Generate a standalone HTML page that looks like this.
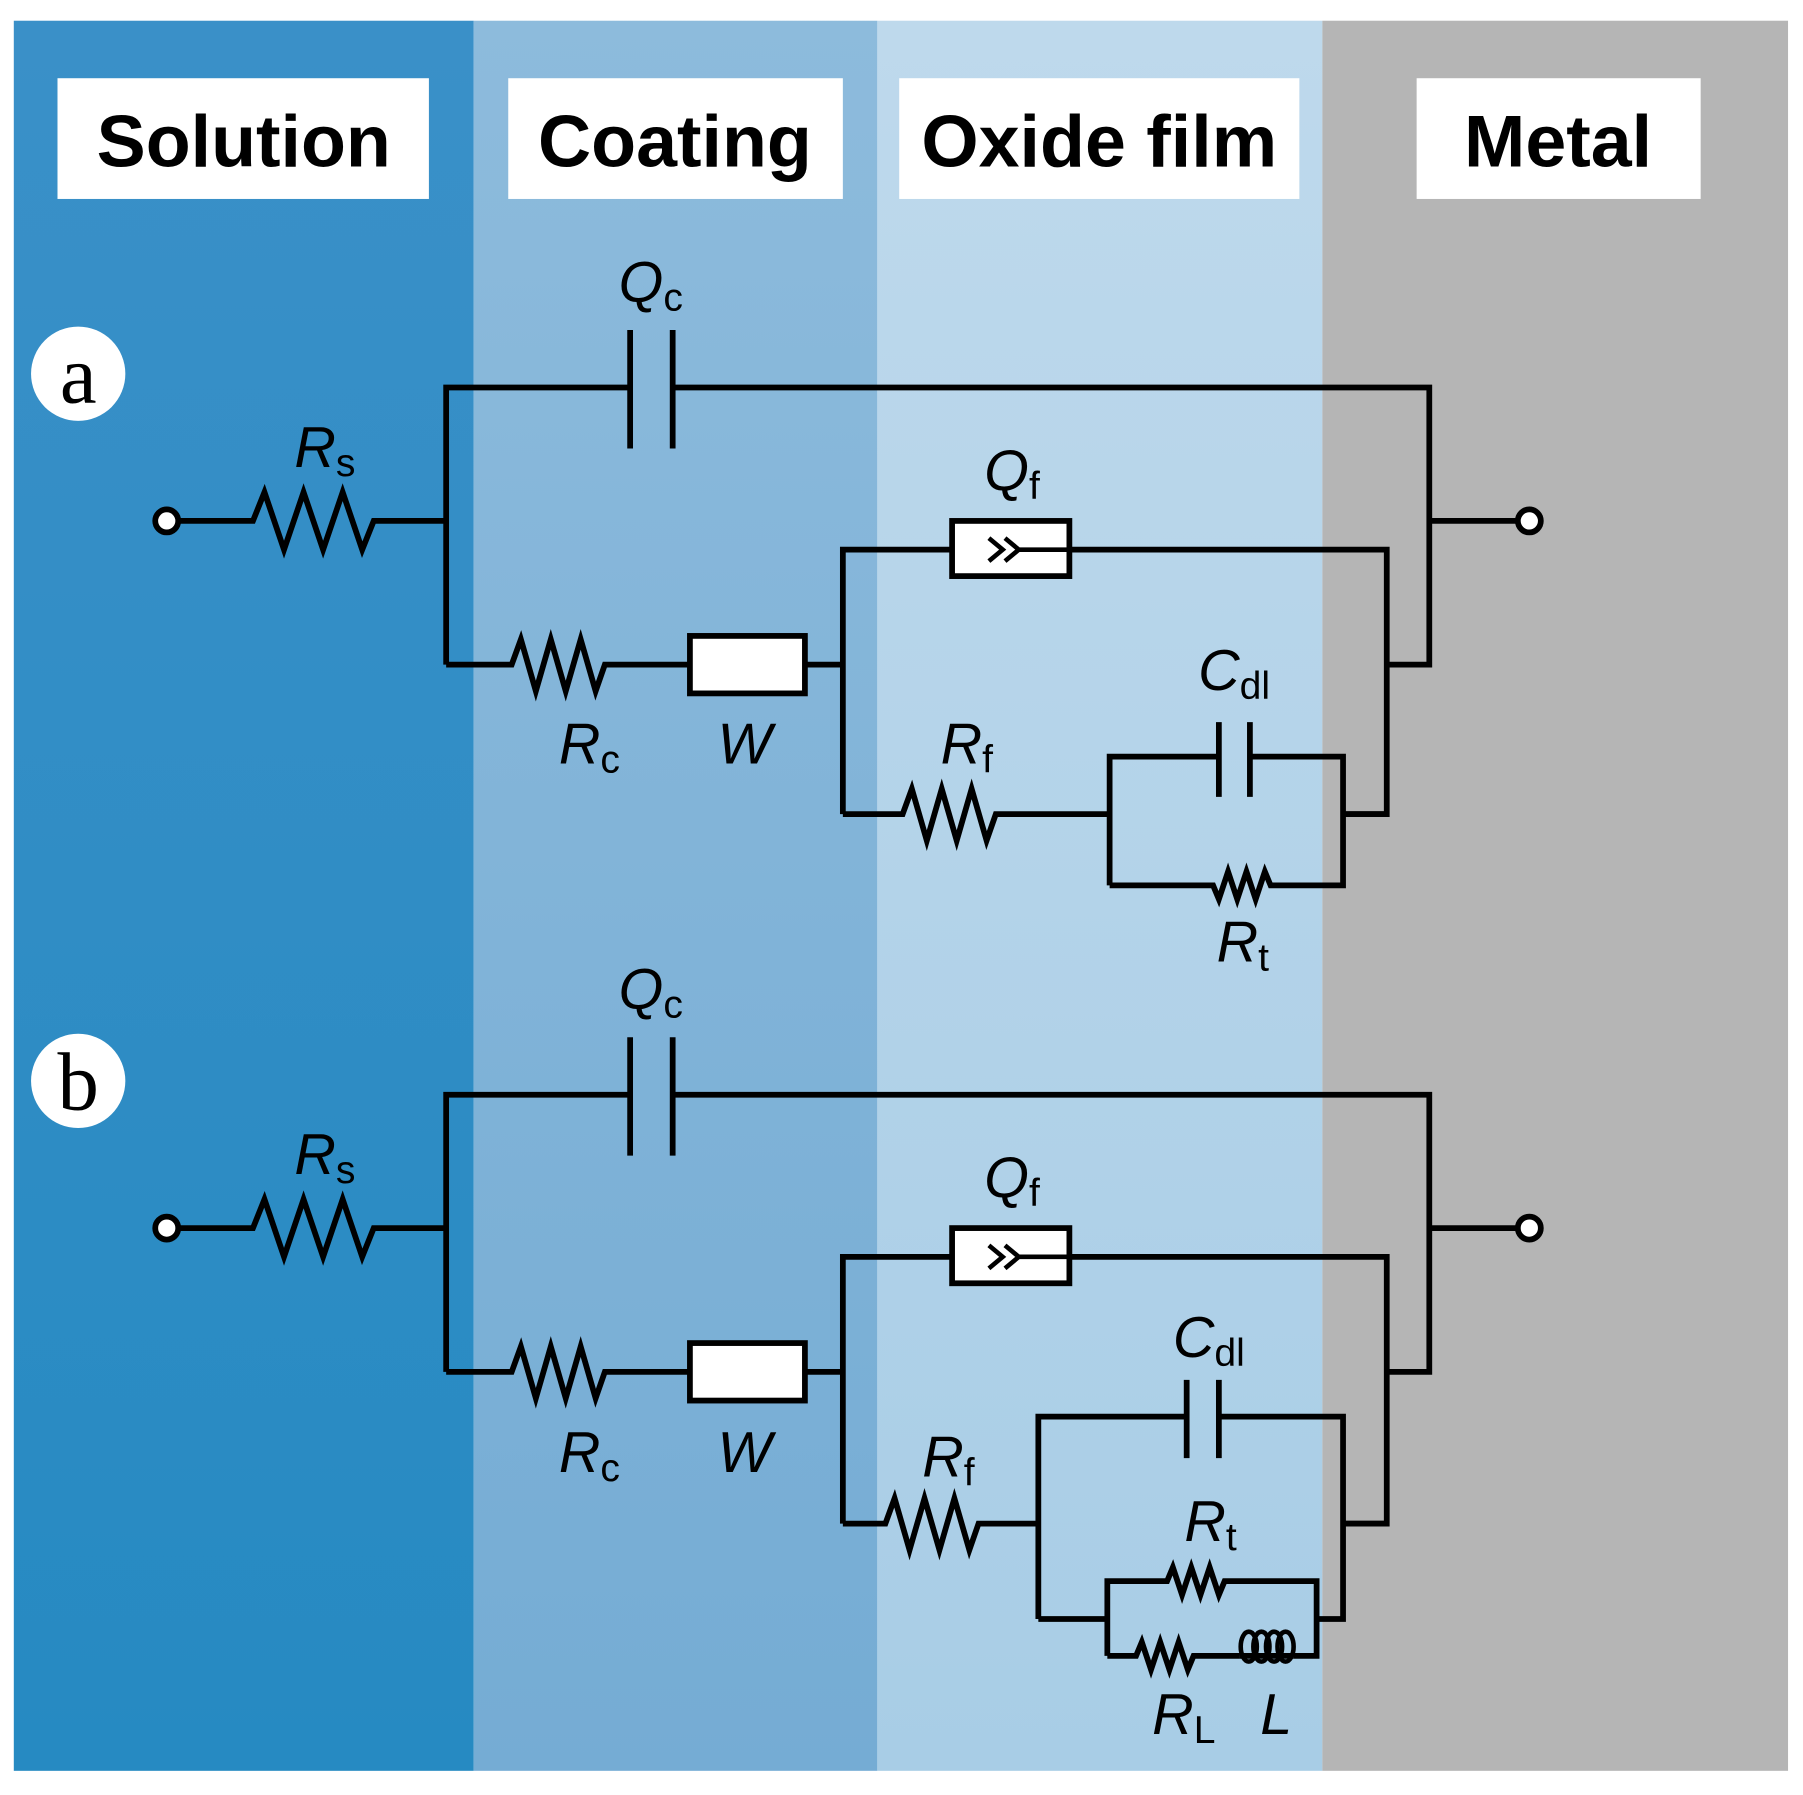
<!DOCTYPE html>
<html><head><meta charset="utf-8"><style>html,body{margin:0;padding:0;background:#fff}svg{display:block}</style></head><body>
<svg width="1803" height="1795" viewBox="0 0 1568 1561" xmlns="http://www.w3.org/2000/svg">
<defs>
<linearGradient id="g1" x1="0" y1="0" x2="0" y2="1"><stop offset="0" stop-color="#3a90c8"/><stop offset="1" stop-color="#268ac2"/></linearGradient>
<linearGradient id="g2" x1="0" y1="0" x2="0" y2="1"><stop offset="0" stop-color="#8dbbdc"/><stop offset="1" stop-color="#75acd4"/></linearGradient>
<linearGradient id="g3" x1="0" y1="0" x2="0" y2="1"><stop offset="0" stop-color="#bed9ec"/><stop offset="1" stop-color="#a8cde6"/></linearGradient>
</defs>
<rect x="0" y="0" width="1568" height="1561" fill="#fff"/>
<rect x="12" y="18" width="400" height="1522" fill="url(#g1)"/>
<rect x="412" y="18" width="351" height="1522" fill="url(#g2)"/>
<rect x="763" y="18" width="387" height="1522" fill="url(#g3)"/>
<rect x="1150" y="18" width="405" height="1522" fill="#b5b5b5"/>
<g fill="#fff">
<rect x="50" y="68" width="323" height="105"/><rect x="442" y="68" width="291" height="105"/>
<rect x="782" y="68" width="348" height="105"/><rect x="1232" y="68" width="247" height="105"/>
</g>
<g font-family="Liberation Sans, sans-serif" font-weight="bold" font-size="64" text-anchor="middle" fill="#000">
<text x="212" y="145">Solution</text><text x="587" y="145">Coating</text>
<text x="956" y="145">Oxide film</text><text x="1355" y="145">Metal</text>
</g>
<g fill="#fff"><circle cx="68" cy="325" r="41"/><circle cx="68" cy="940" r="41"/></g>
<g font-family="Liberation Serif, serif" font-size="72" text-anchor="middle" fill="#000">
<text x="68" y="350">a</text><text x="68" y="965">b</text></g>

<g fill="none" stroke="#000" stroke-width="5" stroke-linejoin="miter">
<path d="M150 453 H220 l10 -25 l17 50 l17 -50 l17 50 l17 -50 l17 50 l10 -25 H388"/>
<path d="M388 578 V337 H548 M585 337 H1243 V578 H1206"/>
<path d="M548 287 V390 M585 287 V390"/>
<path d="M1243 453 H1318"/>
<path d="M388 578 H445 l8 -22 l13 45 l13 -45 l13 45 l13 -45 l13 45 l8 -23 H600"/>
<rect x="600" y="553" width="100" height="50" fill="#fff"/>
<path d="M700 578 H733"/>
<path d="M733 708 V478 H828 M930 478 H1206 V708 H1170"/>
<rect x="828" y="453" width="102" height="48" fill="#fff"/>
</g>
<g fill="none" stroke="#000" stroke-width="5">
<path d="M733 708 H785 l8 -22 l13 45 l13 -45 l13 45 l13 -45 l13 45 l8 -23 H965"/>
<path d="M965 770 V658 H1060 M1087 658 H1168 V770 H1105 l-5 -12 l-8 24 l-8 -24 l-8 24 l-8 -24 l-8 24 l-5 -12 H965"/>
<path d="M1060 628 V693 M1087 628 V693"/>
<path d="M1168 708 H1206"/>
<circle cx="145" cy="453" r="10" fill="#fff"/><circle cx="1330" cy="453" r="10" fill="#fff"/>
<path d="M860 468 l12 10 l-12 10 M874 468 l12 10 l-12 10 M886 478 H930" stroke-width="4"/>
</g>

<g transform="translate(0,615)" fill="none" stroke="#000" stroke-width="5">
<path d="M150 453 H220 l10 -25 l17 50 l17 -50 l17 50 l17 -50 l17 50 l10 -25 H388"/>
<path d="M388 578 V337 H548 M585 337 H1243 V578 H1206"/>
<path d="M548 287 V390 M585 287 V390"/>
<path d="M1243 453 H1318"/>
<path d="M388 578 H445 l8 -22 l13 45 l13 -45 l13 45 l13 -45 l13 45 l8 -23 H600"/>
<rect x="600" y="553" width="100" height="50" fill="#fff"/>
<path d="M700 578 H733"/>
<path d="M733 710 V478 H828 M930 478 H1206 V710 H1170"/>
<rect x="828" y="453" width="102" height="48" fill="#fff"/>
<circle cx="145" cy="453" r="10" fill="#fff"/><circle cx="1330" cy="453" r="10" fill="#fff"/>
<path d="M860 468 l12 10 l-12 10 M874 468 l12 10 l-12 10 M886 478 H930" stroke-width="4"/>
</g>
<g fill="none" stroke="#000" stroke-width="5">
<path d="M733 1325 H770 l8 -22 l13 45 l13 -45 l13 45 l13 -45 l13 45 l8 -23 H903"/>
<path d="M903 1408 V1232 H1032 M1060 1232 H1168 V1408 H1145 M903 1408 H963"/>
<path d="M1032 1200 V1268 M1060 1200 V1268"/>
<path d="M1168 1325 H1206"/>
<path d="M963 1440 V1375 H1015 l5 -12 l8 24 l8 -24 l8 24 l8 -24 l8 24 l5 -12 H1145 V1440 H1125"/>
<path d="M963 1440 H988 l5 -12 l8 24 l8 -24 l8 24 l8 -24 l8 24 l5 -12 H1078"/>
<g stroke-width="4"><ellipse cx="1086" cy="1432" rx="7" ry="13"/><ellipse cx="1097" cy="1432" rx="7" ry="13"/><ellipse cx="1108" cy="1432" rx="7" ry="13"/><ellipse cx="1118" cy="1432" rx="7" ry="13"/></g>
<path d="M1078 1440 H1125"/>
</g>

<g font-family="Liberation Sans, sans-serif" font-style="italic" font-size="50" fill="#000">
<text x="538" y="262">Q<tspan font-size="34" font-style="normal" dy="8">c</tspan></text>
<text x="256" y="406">R<tspan font-size="34" font-style="normal" dy="8">s</tspan></text>
<text x="856" y="426">Q<tspan font-size="34" font-style="normal" dy="8">f</tspan></text>
<text x="486" y="664">R<tspan font-size="34" font-style="normal" dy="8">c</tspan></text>
<text x="624" y="664">W</text>
<text x="818" y="664">R<tspan font-size="34" font-style="normal" dy="8">f</tspan></text>
<text x="1042" y="600">C<tspan font-size="34" font-style="normal" dy="8">dl</tspan></text>
<text x="1058" y="836">R<tspan font-size="34" font-style="normal" dy="8">t</tspan></text>
<text x="538" y="877">Q<tspan font-size="34" font-style="normal" dy="8">c</tspan></text>
<text x="256" y="1021">R<tspan font-size="34" font-style="normal" dy="8">s</tspan></text>
<text x="856" y="1041">Q<tspan font-size="34" font-style="normal" dy="8">f</tspan></text>
<text x="486" y="1280">R<tspan font-size="34" font-style="normal" dy="8">c</tspan></text>
<text x="624" y="1280">W</text>
<text x="802" y="1284">R<tspan font-size="34" font-style="normal" dy="8">f</tspan></text>
<text x="1020" y="1180">C<tspan font-size="34" font-style="normal" dy="8">dl</tspan></text>
<text x="1030" y="1340">R<tspan font-size="34" font-style="normal" dy="8">t</tspan></text>
<text x="1002" y="1508">R<tspan font-size="34" font-style="normal" dy="8">L</tspan></text>
<text x="1096" y="1508">L</text>
</g>
</svg>
</body></html>
